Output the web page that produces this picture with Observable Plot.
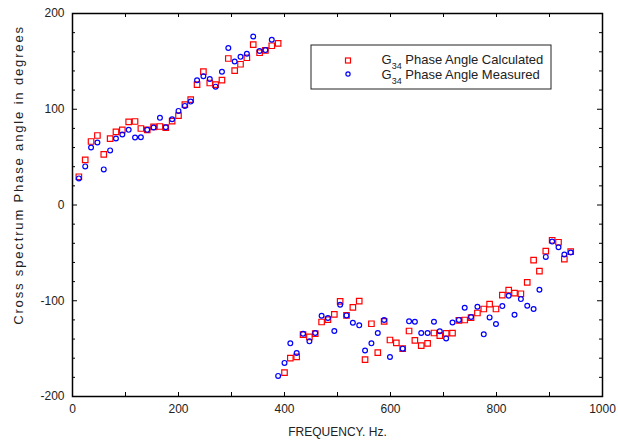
<!DOCTYPE html>
<html>
<head>
<meta charset="utf-8">
<script src="https://cdn.jsdelivr.net/npm/d3@7"></script>
<script src="https://cdn.jsdelivr.net/npm/@observablehq/plot@0.6"></script>
<style>
  html, body { margin: 0; padding: 0; background: #fff; }
  #chart { position: relative; width: 618px; height: 444px; }
</style>
</head>
<body>
<div id="chart"></div>
<script>
// Frequency (Hz) of each sample
const freq = [12, 24, 35, 47, 59, 71, 82, 94, 106, 118, 129, 141, 153, 165, 176, 188, 200, 212, 223, 235,
  247, 259, 270, 282, 294, 306, 317, 329, 341, 353, 364, 376, 388, 400, 411, 423, 435, 447, 458, 470,
  482, 494, 505, 517, 529, 541, 552, 564, 576, 588, 599, 611, 623, 635, 646, 658, 670, 682, 693, 705,
  717, 729, 740, 752, 764, 776, 787, 799, 811, 823, 834, 846, 858, 870, 881, 893, 905, 917, 928, 940];

// G34 phase angle calculated (degrees)
const calculated = [29.5, 47.2, 66.3, 72.6, 52.8, 69.4, 76.4, 78.5, 86.8, 87.2,
  79.9, 78.5, 81.6, 82, 80.9, 87.5, 93.4, 104.9, 110, 125.7,
  139.2, 127.4, 125.7, 130.5, 153, 140.3, 147, 153.8, 167.4, 159,
  161.5, 166.3, 168.8, -175, -160, -158.7, -135.4, -137.8, -134.4, -122.2,
  -119.8, -114.3, -100.7, -115.3, -107, -100.3, -161.5, -124, -154.2, -121.5,
  -141, -144, -150, -131.6, -141.3, -146.9, -144.5, -133.7, -136.5, -134,
  -133.8, -120.5, -120.1, -117.7, -112.8, -108.6, -103.5, -108.6, -94.1, -88.9,
  -92, -92.7, -80.9, -57.6, -69.1, -48.2, -36.8, -38.9, -56.6, -48.6];

// G34 phase angle measured (degrees)
const measured = [27.8, 40.3, 60.1, 65.3, 37.2, 57, 69.4, 73.6, 78.5, 70.5,
  70.8, 78.5, 81, 91, 81.2, 89.6, 98.3, 103.5, 108, 130.2,
  134.5, 131.5, 123.6, 139.2, 163.9, 149.8, 154.7, 158, 176, 160.8,
  161.8, 172.6, -178.5, -164.9, -144.5, -154.5, -134.4, -142.4, -133.7, -115.6,
  -118, -131.6, -104.2, -115.3, -122.9, -125.7, -152, -144.5, -133.7, -120.1,
  -158.7, null, -150, -121.5, -121.9, -133.7, -133.7, -121.9, -131.8, -139.3,
  -122.7, -120, -107.3, -117, -106.3, -135.1, -117.4, -124.3, -105.6, -94.8,
  -114.6, -98.3, -105.2, -108.6, -88.5, -54.2, -38.2, -44.1, -51.7, -49.6];

const xTickLabels = [0, 200, 400, 600, 800, 1000];
const xTicks = [0, 100, 200, 300, 400, 500, 600, 700, 800, 900, 1000];
const yTickLabels = [-200, -100, 0, 100, 200];
const yMinorTicks = [-180, -160, -140, -120, -80, -60, -40, -20, 20, 40, 60, 80, 120, 140, 160, 180];
const yMajorTicks = [-200, -100, 0, 100, 200];

const xLabel = "FREQUENCY. Hz.";
const yLabel = "Cross spectrum Phase angle in degrees";
const seriesNames = ["Phase Angle Calculated", "Phase Angle Measured"];

const calcData = freq.map((f, i) => ({f, v: calculated[i]})).filter(d => d.v != null);
const measData = freq.map((f, i) => ({f, v: measured[i]})).filter(d => d.v != null);

const W = 618, H = 444, ML = 72, MR = 16, MT = 13, MB = 48;
const PW = W - ML - MR, PH = H - MT - MB;

const chart = Plot.plot({
  width: W, height: H,
  marginLeft: ML, marginRight: MR, marginTop: MT, marginBottom: MB,
  x: {domain: [0, 1000]},
  y: {domain: [-200, 200]},
  style: {fontFamily: "'Liberation Sans', Arial, sans-serif", fontSize: "12px", color: "#222", background: "#fff"},
  marks: [
    Plot.axisX(xTickLabels, {tickSize: 0, tickPadding: 8, tickFormat: d => String(d), label: null}),
    Plot.axisY(yTickLabels, {tickSize: 0, tickPadding: 8, tickFormat: d => String(d), label: null}),
    Plot.ruleX(xTicks, {x: d => d, insetTop: PH - 4, stroke: "#000"}),
    Plot.ruleX(xTicks, {x: d => d, insetBottom: PH - 4, stroke: "#000"}),
    Plot.ruleY(yMinorTicks, {y: d => d, insetRight: PW - 3, stroke: "#000"}),
    Plot.ruleY(yMajorTicks, {y: d => d, insetRight: PW - 5, stroke: "#000"}),
    Plot.ruleY(yMinorTicks, {y: d => d, insetLeft: PW - 3, stroke: "#000"}),
    Plot.ruleY(yMajorTicks, {y: d => d, insetLeft: PW - 5, stroke: "#000"}),
    Plot.frame({stroke: "#000", strokeWidth: 1.5}),
    Plot.dot(calcData, {x: "f", y: "v", symbol: "square", r: 3.1, stroke: "#ff0000", strokeWidth: 1.2, fill: "none"}),
    Plot.dot(measData, {x: "f", y: "v", symbol: "circle", r: 2.4, stroke: "#0000ff", strokeWidth: 1.2, fill: "none"}),
    Plot.text([xLabel], {text: d => d, frameAnchor: "bottom", dy: 39, fontSize: 12}),
    Plot.text([yLabel], {text: d => d, frameAnchor: "left", textAnchor: "middle", rotate: -90, dx: -54, dy: -30, fontSize: 13})
  ]
});

document.getElementById("chart").appendChild(chart);

// widen the y label spacing like the reference
const svg = d3.select(chart);
svg.selectAll("text").filter(function() { return this.textContent === yLabel; })
  .style("letter-spacing", "1.85px");

// legend
const lg = svg.append("g")
  .attr("font-family", "'Liberation Sans', Arial, sans-serif")
  .attr("text-anchor", "start")
  .attr("fill", "#222");
lg.append("rect").attr("x", 311).attr("y", 45).attr("width", 240).attr("height", 44)
  .attr("fill", "#fff").attr("stroke", "#222").attr("stroke-width", 1);
lg.append("rect").attr("x", 345.5).attr("y", 58).attr("width", 5).attr("height", 5)
  .attr("fill", "none").attr("stroke", "#ff0000").attr("stroke-width", 1.2);
lg.append("circle").attr("cx", 348).attr("cy", 74).attr("r", 2.1)
  .attr("fill", "none").attr("stroke", "#0000ff").attr("stroke-width", 1.2);
[[seriesNames[0], 64], [seriesNames[1], 78.5]].forEach(([name, y]) => {
  const t = lg.append("text").attr("x", 381.5).attr("y", y).attr("font-size", 13).attr("text-anchor", "start");
  t.append("tspan").text("G");
  t.append("tspan").attr("font-size", 9).attr("dy", 5).text("34");
  t.append("tspan").attr("dy", -5).text(" " + name);
});
</script>
</body>
</html>
